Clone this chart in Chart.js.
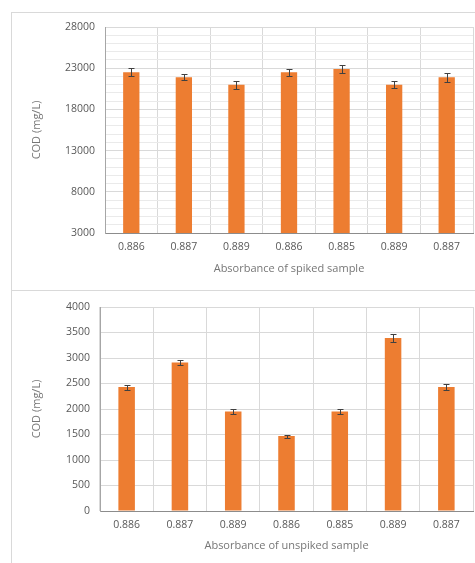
<!DOCTYPE html>
<html>
<head>
<meta charset="utf-8">
<script src="https://cdn.jsdelivr.net/npm/chart.js@4.4.1/dist/chart.umd.min.js"></script>
<style>
  html, body { margin: 0; padding: 0; background: #fff; width: 475px; height: 563px; overflow: hidden; position: relative; }
  .card { position: absolute; left: 11px; width: 520px; border: 1px solid #d9d9d9; box-sizing: border-box; }
  #card1 { top: 12px; height: 279px; }
  #card2 { top: 290px; height: 320px; }
  canvas { position: absolute; left: 0; }
  #c1 { top: 0; }
  #c2 { top: 290px; }
</style>
</head>
<body>
<div class="card" id="card1"></div>
<div class="card" id="card2"></div>
<canvas id="c1" width="475" height="290"></canvas>
<canvas id="c2" width="475" height="273"></canvas>
<script>
// Sample absorbances (category labels, same order in both panels)
const spikedLabels   = ['0.886', '0.887', '0.889', '0.886', '0.885', '0.889', '0.887'];
const unspikedLabels = ['0.886', '0.887', '0.889', '0.886', '0.885', '0.889', '0.887'];

// COD of spiked samples (mg/L) and their error margins
const spikedCOD = [22500, 21900, 21000, 22500, 22900, 21000, 21900];
const spikedErr = [500, 350, 500, 450, 480, 400, 550];

// COD of unspiked samples (mg/L) and their error margins
const unspikedCOD = [2430, 2910, 1950, 1470, 1950, 3390, 2430];
const unspikedErr = [50, 45, 50, 30, 50, 75, 65];

// Y axis ranges: [min, max, grid step, labelled step]
const spikedAxis   = [3000, 28000, 1000, 5000];
const unspikedAxis = [0, 4000, 500, 500];

const FONT = '"Open Sans", "Liberation Sans", sans-serif';
const TICK_COLOR = '#595959';
const TITLE_COLOR = '#767676';
const BAR_COLOR = '#ED7D31';

// Symmetric error bars drawn over each bar
const errorBarPlugin = {
  id: 'errorBars',
  afterDatasetsDraw(chart) {
    const { ctx } = chart;
    const y = chart.scales.y;
    chart.data.datasets.forEach((ds, i) => {
      if (!ds.errors) return;
      const meta = chart.getDatasetMeta(i);
      ctx.save();
      ctx.strokeStyle = '#404040';
      ctx.lineWidth = 1;
      meta.data.forEach((bar, j) => {
        const v = ds.data[j], e = ds.errors[j];
        const yTop = Math.round(y.getPixelForValue(v + e)) + 0.5;
        const yBot = Math.round(y.getPixelForValue(v - e)) + 0.5;
        const x = Math.round(bar.x) + 0.5;
        ctx.beginPath();
        ctx.moveTo(x, yTop); ctx.lineTo(x, yBot);
        ctx.moveTo(x - 3, yTop); ctx.lineTo(x + 3, yTop);
        ctx.moveTo(x - 3, yBot); ctx.lineTo(x + 3, yBot);
        ctx.stroke();
      });
      ctx.restore();
    });
  }
};

function makeChart(id, labels, values, errors, axis, xTitle, geom) {
  const [yMin, yMax, step, labelStep] = axis;
  const isMajor = v => (v - yMin) % labelStep === 0;
  return new Chart(document.getElementById(id), {
    type: 'bar',
    data: {
      labels: labels,
      datasets: [{
        data: values,
        errors: errors,
        backgroundColor: BAR_COLOR,
        borderWidth: 0,
        barPercentage: 0.31,
        categoryPercentage: 1.0
      }]
    },
    options: {
      responsive: false,
      animation: false,
      events: [],
      layout: { padding: { left: 28, top: geom.top, right: 2, bottom: 0 } },
      plugins: { legend: { display: false }, tooltip: { enabled: false } },
      scales: {
        x: {
          z: 1,
          grid: { color: '#d9d9d9', drawTicks: false, offset: true },
          border: { color: '#8c8c8c', width: 1 },
          ticks: { color: TICK_COLOR, font: { family: FONT, size: 10.5 }, padding: 8, maxRotation: 0 },
          title: { display: true, text: xTitle, color: TITLE_COLOR, font: { family: FONT, size: 11 }, padding: { top: 0, bottom: geom.titlePad } },
          afterFit: s => { s.height = geom.xHeight; }
        },
        y: {
          min: yMin, max: yMax,
          grid: {
            drawTicks: false,
            color: c => (c.tick && isMajor(c.tick.value)) ? '#d9d9d9' : '#eaeaea'
          },
          border: { color: '#a6a6a6', width: 1 },
          ticks: {
            stepSize: step,
            autoSkip: false,
            padding: 10,
            color: TICK_COLOR,
            font: { family: FONT, size: 10.5 },
            callback: v => isMajor(v) ? String(v) : ''
          },
          title: { display: true, text: 'COD (mg/L)', color: TITLE_COLOR, font: { family: FONT, size: 11 }, padding: { top: 2, bottom: 0 } },
          afterFit: s => { s.width = geom.yWidth; }
        }
      }
    },
    plugins: [errorBarPlugin]
  });
}

makeChart('c1', spikedLabels, spikedCOD, spikedErr, spikedAxis,
  'Absorbance of spiked sample', { top: 27, xHeight: 57, yWidth: 77, titlePad: 15 });
makeChart('c2', unspikedLabels, unspikedCOD, unspikedErr, unspikedAxis,
  'Absorbance of unspiked sample', { top: 17, xHeight: 52, yWidth: 72, titlePad: 11 });
</script>
</body>
</html>
